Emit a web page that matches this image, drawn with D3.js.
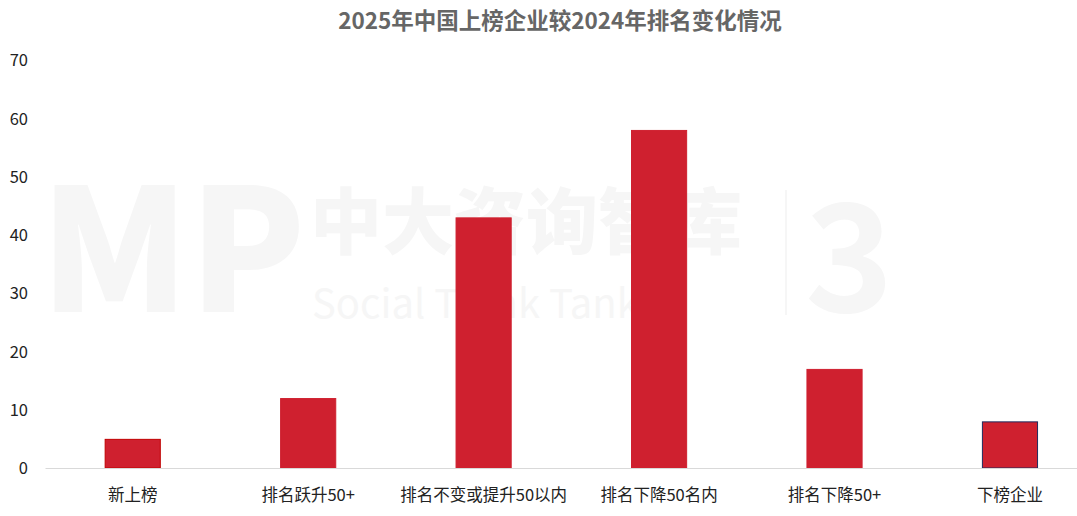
<!DOCTYPE html>
<html><head><meta charset="utf-8">
<script src="https://cdn.jsdelivr.net/npm/d3@7"></script>
<style>body{margin:0;background:#fff}svg{display:block}text{font-family:"Noto Sans CJK SC","Noto Sans",sans-serif}</style>
</head><body><svg id="c" width="1077" height="516"></svg>
<script>
const categories = ["新上榜","排名跃升50+","排名不变或提升50以内","排名下降50名内","排名下降50+","下榜企业"];
const values = [5, 12, 43, 58, 17, 8];
const yTicks = [0,10,20,30,40,50,60,70];
const title = "2025年中国上榜企业较2024年排名变化情况";
const strokes = ["#c00000", "#cf202f", "#cf202f", "#cf202f", "#cf202f", "#1f2a5e"];

const svg = d3.select("#c");
const W = 1077, H = 516;
const y0 = 468, y70 = 60;

// watermark
const wm = svg.append("g").attr("fill", "#f6f6f6");
wm.append("text").attr("x", 40).attr("y", 312).attr("font-size", 170).attr("font-weight", 900)
  .attr("font-family", "Arial, Liberation Sans, sans-serif").text("MP");
wm.append("text").attr("x", 310).attr("y", 248).attr("font-size", 72).attr("font-weight", 900).text("中大咨询智库");
wm.append("text").attr("x", 312).attr("y", 318).attr("font-size", 40)
  .attr("font-family", "'Open Sans', sans-serif").text("Social Think Tank");
wm.append("rect").attr("x", 785).attr("y", 190).attr("width", 2).attr("height", 125);
wm.append("text").attr("x", 805).attr("y", 312).attr("font-size", 150).attr("font-weight", 700)
  .attr("font-family", "'Open Sans', sans-serif").text("3");

const x = d3.scaleBand().domain(categories).range([45, 1097.7]).paddingInner(0.68).paddingOuter(0.34);
const y = d3.scaleLinear().domain([0, 70]).range([y0, y70]);

// title
svg.append("text").attr("x", 560).attr("y", 29).attr("text-anchor", "middle")
  .attr("font-size", 22.5).attr("font-weight", 700).attr("fill", "#666666").text(title);

// y axis
const ya = svg.append("g").attr("transform", "translate(28,0)")
  .call(d3.axisLeft(y).tickValues(yTicks).tickSize(0).tickPadding(0));
ya.select(".domain").remove();
ya.selectAll("text").attr("font-size", 16.5).attr("fill", "#222").attr("dy", "0.35em")
  .style("font-family", "'Noto Sans CJK SC', sans-serif");

// bars
svg.append("g").selectAll("rect").data(values).join("rect")
  .attr("x", (d, i) => x(categories[i]) + 0.5)
  .attr("y", d => y(d) + 0.5)
  .attr("width", x.bandwidth() - 1)
  .attr("height", d => y0 - y(d) - 0.5)
  .attr("fill", "#cf202f")
  .attr("stroke", (d, i) => strokes[i]).attr("stroke-width", 1);

// x axis
const xa = svg.append("g").attr("transform", `translate(0,${y0})`)
  .call(d3.axisBottom(x).tickSize(0).tickPadding(21));
xa.select(".domain").attr("stroke", "#d9d9d9").attr("stroke-width", 1);
xa.selectAll("text").attr("font-size", 16.5).attr("fill", "#222")
  .style("font-family", "'Noto Sans CJK SC', sans-serif");
</script></body></html>
